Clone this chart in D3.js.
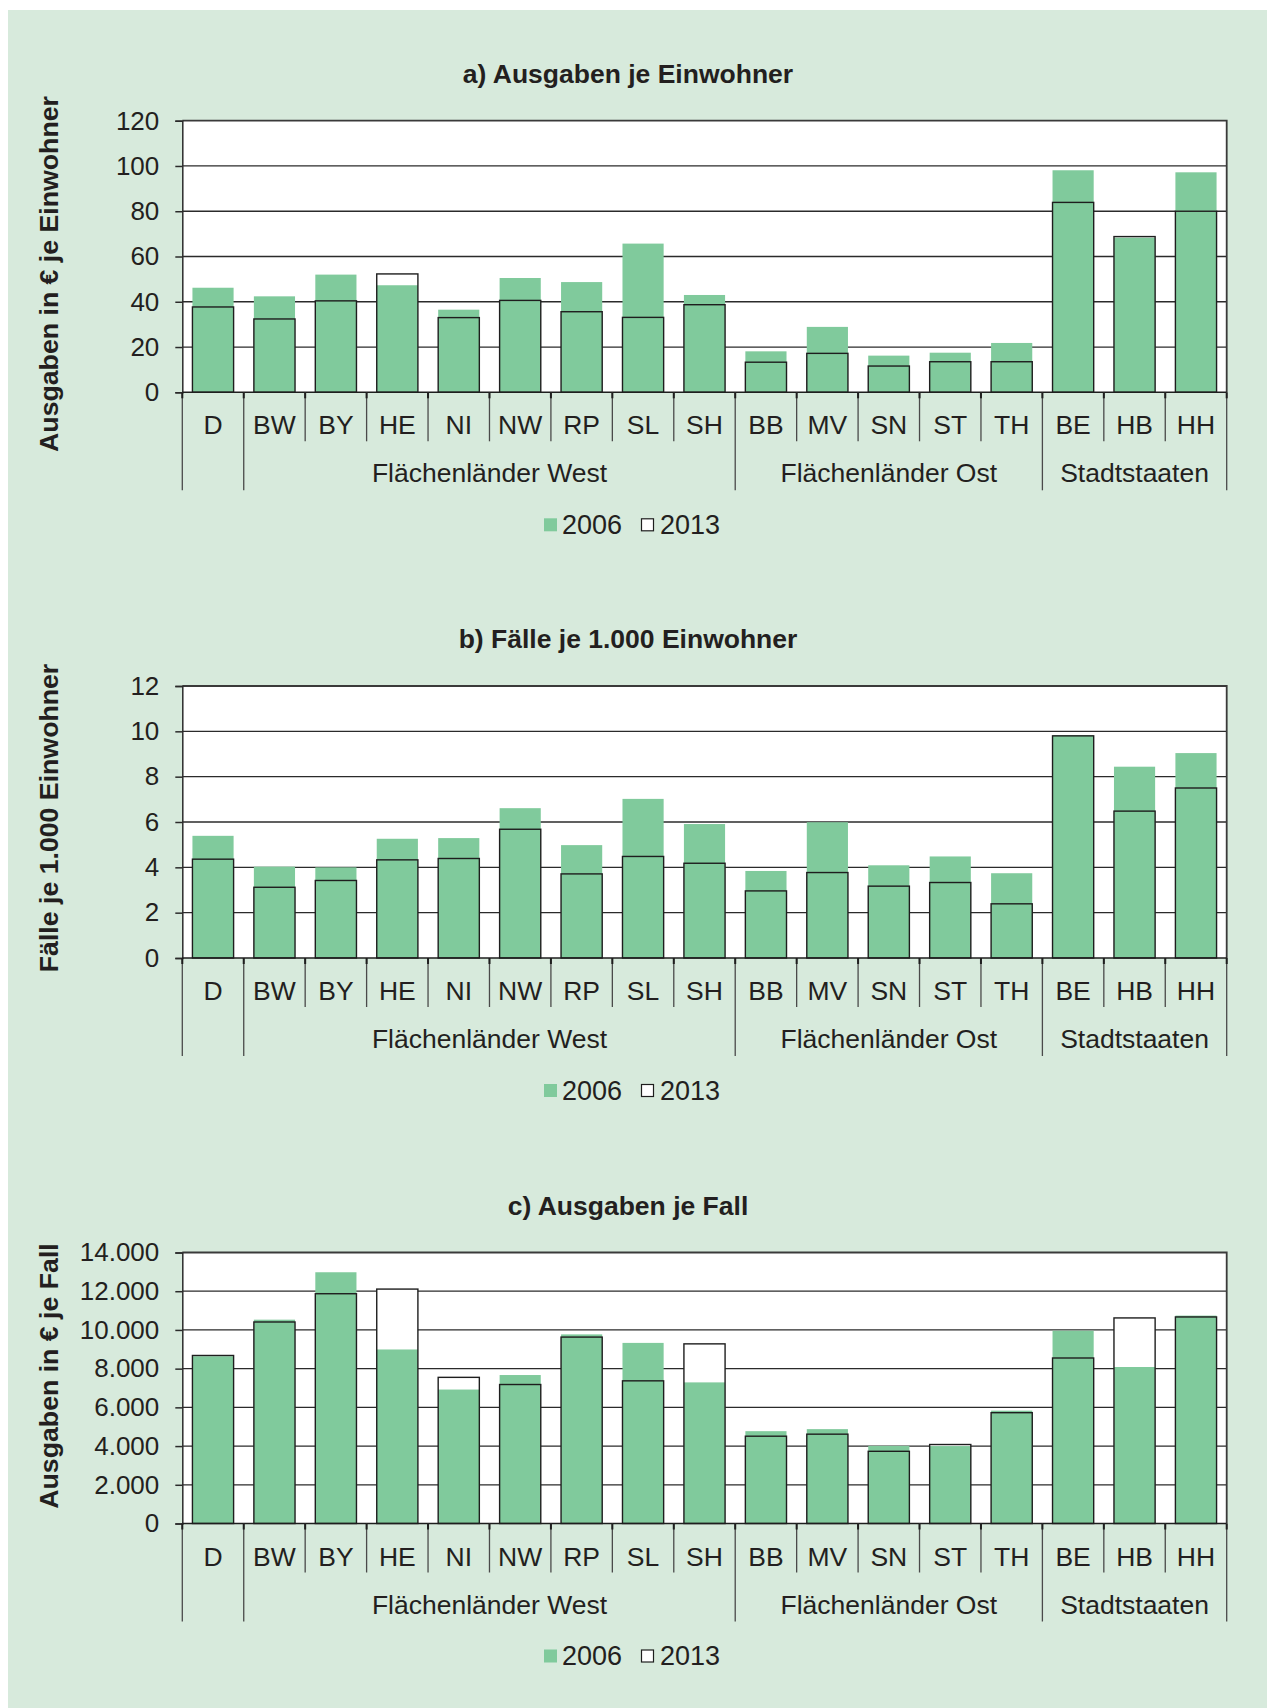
<!DOCTYPE html>
<html><head><meta charset="utf-8">
<script src="https://cdn.jsdelivr.net/npm/d3@7"></script>
<style>
body{margin:0;background:#fff}
text{font-family:"Liberation Sans",Arial,Helvetica,sans-serif;fill:#231f20}
</style></head>
<body><svg id="chart" width="1267" height="1708"></svg>
<script>
// ---- data ----
const categories = ["D","BW","BY","HE","NI","NW","RP","SL","SH","BB","MV","SN","ST","TH","BE","HB","HH"];
const groupNames = ["", "Flächenländer West", "Flächenländer Ost", "Stadtstaaten"];
const groupFirst = ["D", "BW", "BB", "BE"];
const groupLast  = ["D", "SH", "TH", "HH"];
const seriesNames = ["2006", "2013"];

const a2006 = [46.2,42.4,52.0,47.3,36.5,50.5,48.7,65.7,43.0,18.1,28.9,16.2,17.5,21.8,98.1,68.3,97.2];
const a2013 = [37.7,32.4,40.4,52.3,33.0,40.6,35.6,33.1,38.7,13.3,17.2,11.6,13.5,13.5,83.9,68.8,80.0];
const b2006 = [5.39,4.03,4.00,5.26,5.29,6.61,4.98,7.02,5.91,3.84,5.99,4.09,4.48,3.74,9.83,8.44,9.04];
const b2013 = [4.36,3.12,3.42,4.33,4.39,5.68,3.71,4.48,4.18,2.96,3.77,3.17,3.33,2.39,9.80,6.48,7.50];
const c2006 = [8640,10530,12980,8990,6920,7670,9770,9330,7290,4770,4875,4010,4000,5830,9960,8085,10740];
const c2013 = [8680,10410,11870,12110,7550,7180,9630,7370,9280,4510,4615,3730,4080,5725,8550,10620,10670];

const titles = ["a) Ausgaben je Einwohner", "b) Fälle je 1.000 Einwohner", "c) Ausgaben je Fall"];
const yTitles = ["Ausgaben in € je Einwohner", "Fälle je 1.000 Einwohner", "Ausgaben in € je Fall"];
const ticksA = [0,20,40,60,80,100,120];
const ticksB = [0,2,4,6,8,10,12];
const ticksC = [0,2000,4000,6000,8000,10000,12000,14000];

// ---- layout ----
const panels = [
  {title:titles[0], yTitle:yTitles[0], v06:a2006, v13:a2013, ticks:ticksA, top:120.7, bottom:392.3, yTitleY:274},
  {title:titles[1], yTitle:yTitles[1], v06:b2006, v13:b2013, ticks:ticksB, top:686, bottom:958, yTitleY:818},
  {title:titles[2], yTitle:yTitles[2], v06:c2006, v13:c2013, ticks:ticksC, top:1252.5, bottom:1523.5, yTitleY:1376}
];
const X0 = 182.3, X1 = 1226.7;
const GREEN = "#80ca9c", BG = "#d7eadc", INK = "#231f20";
const FS = 26.5;
const deFmt = d3.formatLocale({decimal:",", thousands:".", grouping:[3], currency:["","€"]}).format(",.0f");

const svg = d3.select("#chart");
svg.append("rect").attr("x",8).attr("y",10).attr("width",1259).attr("height",1698).attr("fill",BG);

const x = d3.scaleBand().domain(categories).range([X0, X1]).paddingInner(0.33).paddingOuter(0.165);
const step = x.step();

panels.forEach((p, pi) => {
  const y = d3.scaleLinear().domain([0, d3.max(p.ticks)]).range([p.bottom, p.top]);
  const g = svg.append("g");

  // plot background
  g.append("rect").attr("x",X0).attr("y",p.top).attr("width",X1-X0).attr("height",p.bottom-p.top).attr("fill","#fff");

  // gridlines
  g.selectAll(".grid").data(p.ticks.filter(t => t>0 && t<d3.max(p.ticks))).enter().append("line")
    .attr("x1",X0).attr("x2",X1).attr("y1",d=>y(d)).attr("y2",d=>y(d))
    .attr("stroke","#2b2b2b").attr("stroke-width",1.3);

  // 2013 white fill
  g.selectAll(".w13").data(categories).enter().append("rect")
    .attr("x",d=>x(d)).attr("width",x.bandwidth())
    .attr("y",(d,i)=>y(p.v13[i])).attr("height",(d,i)=>y(0)-y(p.v13[i]))
    .attr("fill","#fff");
  // 2006 green
  g.selectAll(".g06").data(categories).enter().append("rect")
    .attr("x",d=>x(d)).attr("width",x.bandwidth())
    .attr("y",(d,i)=>y(p.v06[i])).attr("height",(d,i)=>y(0)-y(p.v06[i]))
    .attr("fill",GREEN);
  // 2013 outline
  g.selectAll(".o13").data(categories).enter().append("rect")
    .attr("x",d=>x(d)).attr("width",x.bandwidth())
    .attr("y",(d,i)=>y(p.v13[i])).attr("height",(d,i)=>y(0)-y(p.v13[i]))
    .attr("fill","none").attr("stroke","#1e1e1e").attr("stroke-width",1.4);

  // plot border top/right
  g.append("path").attr("d",`M${X0},${p.top}H${X1}V${p.bottom}`).attr("fill","none").attr("stroke","#3a3a3a").attr("stroke-width",1.8);

  // y axis
  const ya = g.append("g").attr("transform",`translate(${X0},0)`)
    .call(d3.axisLeft(y).tickValues(p.ticks).tickSize(7).tickPadding(16)
      .tickFormat(pi===2 ? deFmt : d3.format("d")));
  ya.select(".domain").attr("stroke","#2b2b2b").attr("stroke-width",1.5);
  ya.selectAll(".tick line").attr("stroke","#2b2b2b").attr("stroke-width",1.5);
  ya.selectAll(".tick text").attr("font-size",26).attr("fill",INK)
    .attr("font-family",'"Liberation Sans",Arial,sans-serif');

  // x axis baseline
  g.append("line").attr("x1",X0).attr("x2",X1).attr("y1",y(0)).attr("y2",y(0))
    .attr("stroke","#1e1e1e").attr("stroke-width",1.6);

  // separators
  const longIdx = new Set();
  groupFirst.forEach(c => longIdx.add(categories.indexOf(c)));
  longIdx.add(categories.length);
  d3.range(categories.length+1).forEach(k => {
    const xx = X0 + k*step;
    const isLong = longIdx.has(k);
    g.append("line").attr("x1",xx).attr("x2",xx).attr("y1",y(0)).attr("y2",y(0)+(isLong?98:49))
      .attr("stroke","#4a4a4a").attr("stroke-width",1.3);
    g.append("line").attr("x1",xx).attr("x2",xx).attr("y1",y(0)).attr("y2",y(0)+6)
      .attr("stroke","#1e1e1e").attr("stroke-width",2);
  });

  // category labels
  g.selectAll(".cat").data(categories).enter().append("text")
    .attr("x",d=>x(d)+x.bandwidth()/2).attr("y",y(0)+33)
    .attr("text-anchor","middle").attr("dominant-baseline","central")
    .attr("font-size",FS).text(d=>d);

  // group labels
  groupNames.forEach((n, gi) => {
    if (!n) return;
    const a = X0 + categories.indexOf(groupFirst[gi])*step;
    const b = X0 + (categories.indexOf(groupLast[gi])+1)*step;
    g.append("text").attr("x",(a+b)/2).attr("y",y(0)+81)
      .attr("text-anchor","middle").attr("dominant-baseline","central")
      .attr("font-size",FS).text(n);
  });

  // title
  g.append("text").attr("x",628).attr("y",p.top-47)
    .attr("text-anchor","middle").attr("dominant-baseline","central")
    .attr("font-size",26.5).attr("font-weight","bold").text(p.title);

  // y title
  g.append("text").attr("transform",`translate(49,${p.yTitleY}) rotate(-90)`)
    .attr("text-anchor","middle").attr("dominant-baseline","central")
    .attr("font-size",26.7).attr("font-weight","bold").text(p.yTitle);

  // legend
  const ly = y(0)+132.5;
  const leg = g.append("g");
  leg.append("rect").attr("x",544).attr("y",ly-6.5).attr("width",13).attr("height",13).attr("fill",GREEN);
  leg.append("text").attr("x",562).attr("y",ly).attr("dominant-baseline","central").attr("font-size",27).text(seriesNames[0]);
  leg.append("rect").attr("x",641.5).attr("y",ly-6).attr("width",12).attr("height",12).attr("fill","#fff").attr("stroke","#1e1e1e").attr("stroke-width",1.2);
  leg.append("text").attr("x",660).attr("y",ly).attr("dominant-baseline","central").attr("font-size",27).text(seriesNames[1]);
});
</script>
</body></html>
